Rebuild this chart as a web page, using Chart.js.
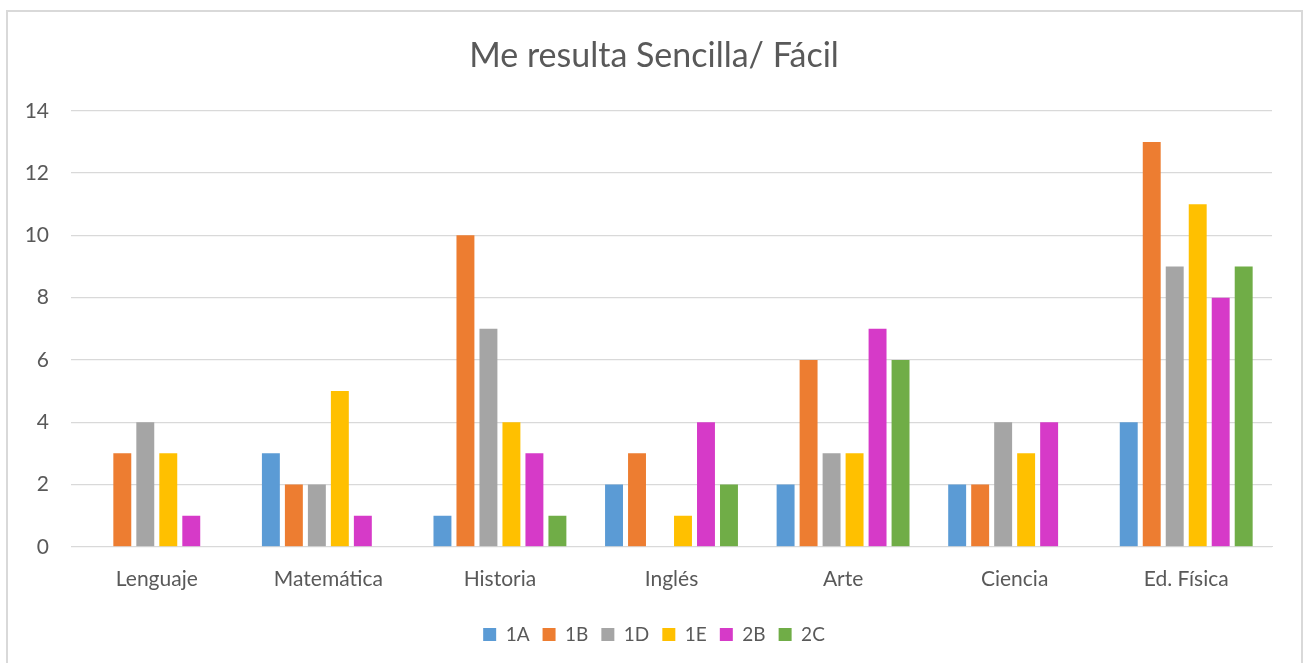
<!DOCTYPE html>
<html>
<head>
<meta charset="utf-8">
<script src="https://cdn.jsdelivr.net/npm/chart.js@4"></script>
<style>
  body { margin: 0; background: #fff; }
  #wrap { position: relative; width: 1308px; height: 663px; overflow: hidden; }
  #frame {
    position: absolute; left: 6px; top: 10px; width: 1293px; height: 700px;
    border: 2px solid #d9d9d9; pointer-events: none;
  }
  canvas { position: absolute; left: 0; top: 0; }
</style>
</head>
<body>
<div id="wrap">
  <canvas id="chart" width="1308" height="663"></canvas>
  <div id="frame"></div>
</div>
<script>
const subjects = ["Lenguaje", "Matemática", "Historia", "Inglés", "Arte", "Ciencia", "Ed. Física"];
const groups = ["1A", "1B", "1D", "1E", "2B", "2C"];
const colors = ["#5b9bd5", "#ed7d31", "#a5a5a5", "#ffc000", "#d63ac8", "#70ad47"];

const g1A = [0, 3, 1, 2, 2, 2, 4];
const g1B = [3, 2, 10, 3, 6, 2, 13];
const g1D = [4, 2, 7, 0, 3, 4, 9];
const g1E = [3, 5, 4, 1, 3, 3, 11];
const g2B = [1, 1, 3, 4, 7, 4, 8];
const g2C = [0, 0, 1, 2, 6, 0, 9];

const yTicks = [0, 2, 4, 6, 8, 10, 12, 14];

const series = [g1A, g1B, g1D, g1E, g2B, g2C];
const fontFam = "Lato, 'Open Sans', sans-serif";
const textColor = "#595959";

new Chart(document.getElementById("chart"), {
  type: "bar",
  data: {
    labels: subjects,
    datasets: series.map((vals, i) => ({
      label: groups[i],
      data: vals,
      backgroundColor: colors[i],
      borderWidth: 0,
      categoryPercentage: 0.804,
      barPercentage: 0.78,
    })),
  },
  options: {
    responsive: false,
    animation: false,
    layout: { padding: { left: 0, right: 0, top: 0, bottom: 9 } },
    plugins: {
      title: {
        display: true,
        text: "Me resulta Sencilla/ Fácil",
        color: textColor,
        font: { family: fontFam, size: 34, weight: "normal" },
        padding: { top: 36, bottom: 34 },
      },
      legend: {
        position: "bottom",
        labels: {
          color: textColor,
          font: { family: fontFam, size: 19 },
          boxWidth: 13,
          boxHeight: 13,
          padding: 13,
        },
      },
      tooltip: { enabled: false },
    },
    scales: {
      x: {
        grid: { display: false, drawTicks: false },
        border: { color: "#d9d9d9", width: 1 },
        ticks: { color: textColor, font: { family: fontFam, size: 21 }, padding: 20 },
      },
      y: {
        min: 0,
        max: 14,
        afterBuildTicks: (scale) => { scale.ticks = yTicks.map((v) => ({ value: v })); },
        afterFit: (scale) => { scale.width = 71; },
        grid: { color: "#d9d9d9", lineWidth: 1.3, drawTicks: false },
        border: { display: false },
        ticks: { color: textColor, font: { family: fontFam, size: 21 }, padding: 22 },
      },
      // empty right-hand axis, only to keep the plot clear of the right edge
      yRight: {
        position: "right",
        min: 0,
        max: 14,
        afterFit: (scale) => { scale.width = 36; },
        grid: { display: false, drawTicks: false },
        border: { display: false },
        ticks: { display: false },
      },
    },
  },
});
</script>
</body>
</html>
